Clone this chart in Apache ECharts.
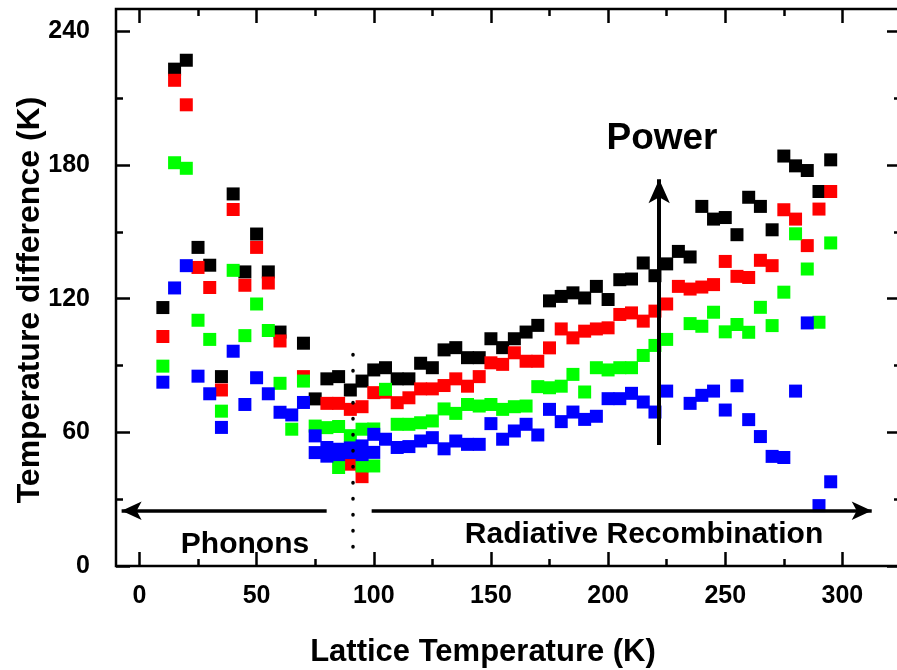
<!DOCTYPE html>
<html><head><meta charset="utf-8">
<script src="https://cdn.jsdelivr.net/npm/echarts@6/dist/echarts.min.js"></script>
<style>html,body{margin:0;padding:0;background:#fff}#c{width:897px;height:670px}</style>
</head><body><div id="c"></div>
<script>
const temps = [10,15,20,25,30,35,40,45,50,55,60,65,70,75,80,85,90,95,100,105,110,115,120,125,130,135,140,145,150,155,160,165,170,175,180,185,190,195,200,205,210,215,220,225,230,235,240,245,250,255,260,265,270,275,280,285,290,295];
const black = [116,223,227,143,135,85,167,132,149,132,105,null,100,75,84,85,79,83,88,89,84,84,91,89,97,98,93.5,93.5,102,98,102,105,108,119,121,122.6,120.3,125.5,119.6,128.5,128.8,136,130.3,135.6,141.2,138.7,161.4,155.7,156.4,148.7,165.5,161.4,150.9,184,179.6,177.5,168.1,182.3];
const red = [103,218,207,134,125,79,160,126,143,127,101,null,85,null,73,73,70.3,71.5,77.8,78,73.3,75.5,79.5,79.5,81,84,80.7,85,91.2,90.5,95.7,91.9,91.9,97.9,106.4,102.4,105.4,106.4,106.9,112.9,113.6,109.9,114.4,117.6,125.5,124.3,125.2,126.3,136.7,130,129.5,137.2,134.8,159.9,155.7,143.8,160.2,168.1];
const green = [89.7,181,178.5,110.3,101.7,69.5,132.7,103.4,117.6,105.7,82,61.4,83,62.8,62.1,62.6,58.5,61.4,61.5,79.3,63.6,63.6,64.3,65.1,70.5,68.5,72.5,71.8,72.5,70.3,71.5,71.8,80.5,80,80.7,86,78.1,89,88,89,89,94.5,99,101.7,null,108.8,107.6,113.9,105.1,108.4,104.9,116.1,107.9,122.9,149.1,133.3,109.4,145];
const blue = [82.5,124.8,134.8,85.2,77.3,62.2,96.4,72.5,84.5,77.3,69,67.8,73.4,58.4,53.2,52.4,50.9,53.9,59.1,56.9,53.2,53.6,56.1,57.6,52.6,56.1,54.6,54.6,63.9,56.9,60.6,63.6,58.8,70.3,64.8,69.1,65.8,67.2,75.1,75.1,77.5,73.6,69.1,78.5,null,73,76.6,78.5,70,80.9,65.7,58.1,49.2,48.7,78.5,109.1,27.1,37.8];
// second (overlapping) set of points in the 75-100 K region
const extraTemps = [75,80,85,90,95,100];
const redExtra = [null,null,null,45.7,40.1,null];
const greenExtra = [null,null,44.2,null,44.9,44.9];
const blueExtra = [50.9,49.3,50,53,50,51];
const xMajorTicks = [0,50,100,150,200,250,300];
const xMinorTicks = [25,75,125,175,225,275];
const yMajorTicks = [0,60,120,180,240];
const yMinorTicks = [30,90,150,210];
// annotations (data coordinates)
const powerArrow = {x:221.8, from:54.3, to:173.6};
const phononArrow = {y:24.8, from:79.9, to:-7.6};
const recombArrow = {y:24.8, from:99.1, to:312.5};
const divider = {x:90.9, from:8.5, to:95.2};

function pairs(xs, ys){ const out=[]; xs.forEach((x,i)=>{ if(ys[i]!=null) out.push([x,ys[i]]); }); return out; }

const FF = '"Liberation Sans", Arial, sans-serif';
const chart = echarts.init(document.getElementById('c'), null, {renderer:'canvas'});
function xAx(pos, ticks, len, labels){
  return {type:'value', min:-10, max:325, position:pos, axisLine:{show:false, onZero:false}, splitLine:{show:false},
    axisTick:{show:true, inside:true, length:len, customValues:ticks, lineStyle:{color:'#000', width:2.5}},
    axisLabel:{show:labels, customValues:ticks, fontSize:25, fontWeight:'bold', fontFamily:FF, color:'#000', margin:18}};
}
function yAx(pos, ticks, len, labels){
  return {type:'value', min:0, max:250, position:pos, axisLine:{show:false, onZero:false}, splitLine:{show:false},
    axisTick:{show:true, inside:true, length:len, customValues:ticks, lineStyle:{color:'#000', width:2.5}},
    axisLabel:{show:labels, customValues:ticks, fontSize:25, fontWeight:'bold', fontFamily:FF, color:'#000', margin:26}};
}
function sc(name, data, color){
  return {type:'scatter', name, data, symbol:'rect', symbolSize:13, itemStyle:{color, opacity:1}, xAxisIndex:0, yAxisIndex:0, animation:false, silent:true};
}
const ls = (w)=>({color:'#000', width:w, type:'solid'});
chart.setOption({
  animation:false,
  grid:{left:116, width:785, top:9, bottom:104, outerBoundsMode:'none', containLabel:false, show:true, borderColor:'#000', borderWidth:2.5, backgroundColor:'transparent'},
  xAxis:[xAx('bottom', xMajorTicks, 14, true), xAx('bottom', xMinorTicks, 7, false), xAx('top', xMajorTicks, 14, false), xAx('top', xMinorTicks, 7, false)],
  yAxis:[yAx('left', yMajorTicks, 14, true), yAx('left', yMinorTicks, 7, false), yAx('right', yMajorTicks, 14, false), yAx('right', yMinorTicks, 7, false)],
  series:[
    sc('black', pairs(temps, black), '#000000'),
    sc('red', pairs(temps, red).concat(pairs(extraTemps, redExtra)), '#ff0000'),
    sc('green', pairs(temps, green).concat(pairs(extraTemps, greenExtra)), '#00ff00'),
    sc('blue', pairs(temps, blue).concat(pairs(extraTemps, blueExtra)), '#0000ff'),
    {type:'line', data:[], z:5, xAxisIndex:0, yAxisIndex:0, silent:true,
      markLine:{silent:true, animation:false, label:{show:false}, symbol:['none','arrow'],
        data:[
          [{coord:[powerArrow.x, powerArrow.from], symbol:'none', lineStyle:ls(4)}, {coord:[powerArrow.x, powerArrow.to], symbol:'arrow', symbolSize:[16,24]}],
          [{coord:[phononArrow.from, phononArrow.y], symbol:'none', lineStyle:ls(3.5)}, {coord:[phononArrow.to, phononArrow.y], symbol:'arrow', symbolSize:[14,20]}],
          [{coord:[recombArrow.from, recombArrow.y], symbol:'none', lineStyle:ls(3.5)}, {coord:[recombArrow.to, recombArrow.y], symbol:'arrow', symbolSize:[14,20]}],
          [{coord:[divider.x, divider.from], symbol:'none', lineStyle:{color:'#000', width:3.5, type:[0.5,15.5], cap:'round'}}, {coord:[divider.x, divider.to], symbol:'none'}]
        ]}}
  ],
  graphic:[
    {type:'text', x:662, y:139, z:10, style:{text:'Power', font:'bold 37px '+FF, fill:'#000', align:'center', verticalAlign:'middle', textAlign:'center', textVerticalAlign:'middle'}},
    {type:'text', x:245, y:545, z:10, style:{text:'Phonons', font:'bold 30px '+FF, fill:'#000', align:'center', verticalAlign:'middle', textAlign:'center', textVerticalAlign:'middle'}},
    {type:'text', x:644, y:535, z:10, style:{text:'Radiative Recombination', font:'bold 30px '+FF, fill:'#000', align:'center', verticalAlign:'middle', textAlign:'center', textVerticalAlign:'middle'}},
    {type:'text', x:483, y:652, z:10, style:{text:'Lattice Temperature (K)', font:'bold 31px '+FF, fill:'#000', align:'center', verticalAlign:'middle', textAlign:'center', textVerticalAlign:'middle'}},
    {type:'text', x:30, y:300, rotation:Math.PI/2, z:10, style:{text:'Temperature difference (K)', font:'bold 32px '+FF, fill:'#000', align:'center', verticalAlign:'middle', textAlign:'center', textVerticalAlign:'middle'}}
  ]
});
</script></body></html>
